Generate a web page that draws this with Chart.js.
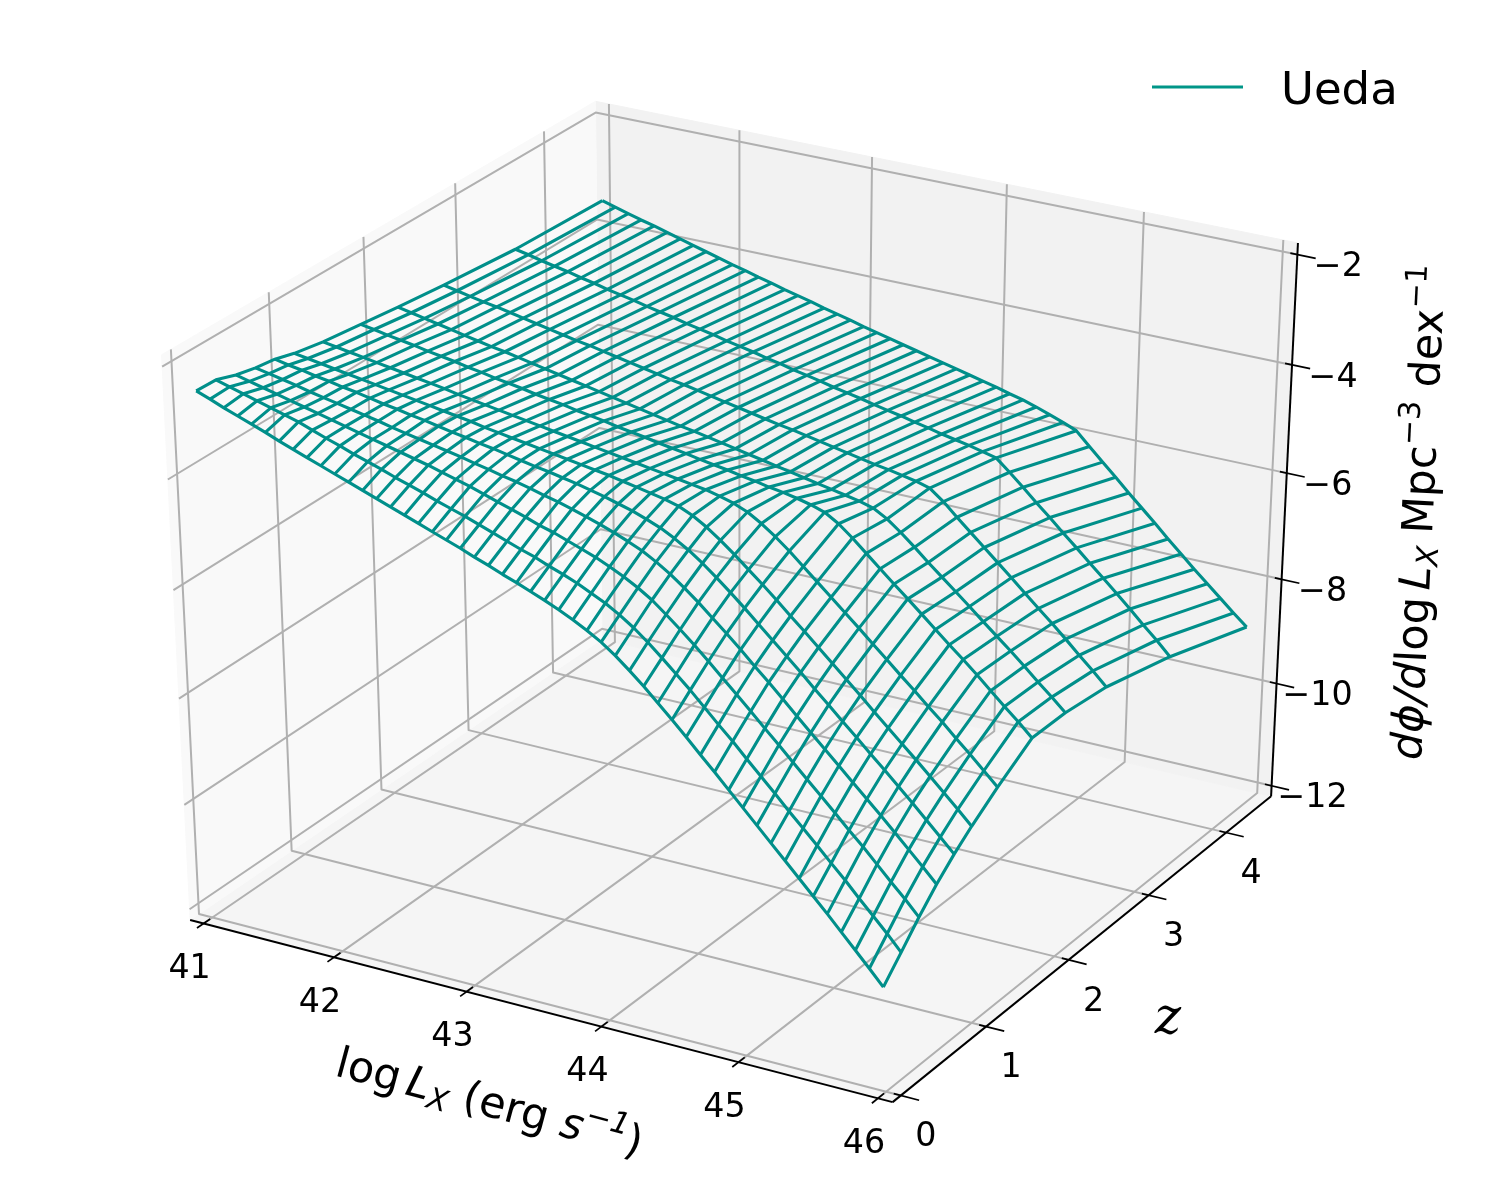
<!DOCTYPE html>
<html>
<head>
<meta charset="utf-8">
<title>Ueda XLF</title>
<script src="https://cdn.jsdelivr.net/npm/chart.js@4/dist/chart.umd.min.js"></script>
<style>
  html, body { margin: 0; padding: 0; background: #fff; }
  canvas { display: block; }
</style>
</head>
<body>
<canvas id="xlf" width="1500" height="1200"></canvas>
<script>
/* ---- luminosity function grid ---- */
const logLx = [41.07,41.17,41.27,41.37,41.47,41.57,41.67,41.77,41.87,41.97,
               42.07,42.17,42.27,42.37,42.47,42.57,42.67,42.77,42.87,42.97,
               43.07,43.17,43.27,43.37,43.47,43.57,43.67,43.77,43.87,43.97,
               44.07,44.17,44.27,44.37,44.47,44.57,44.67,44.77,44.87,44.97,
               45.07,45.17,45.27,45.37,45.47,45.57,45.67,45.77,45.87,45.97];
const redshift = [0, 0.2, 0.4, 0.6, 0.8, 1.0, 1.3, 1.7, 2.1, 2.6, 3.4, 4.4];

// one row of log dphi/dlogLx per redshift
const phiZ00 = [-2.43,-2.52,-2.62,-2.71,-2.80,-2.89,-2.99,-3.08,-3.17,-3.26,
                -3.35,-3.44,-3.53,-3.62,-3.71,-3.80,-3.89,-3.98,-4.07,-4.16,
                -4.26,-4.35,-4.45,-4.54,-4.64,-4.74,-4.85,-4.97,-5.10,-5.25,
                -5.43,-5.64,-5.86,-6.10,-6.34,-6.59,-6.85,-7.10,-7.36,-7.62,
                -7.88,-8.14,-8.40,-8.66,-8.92,-9.18,-9.45,-9.72,-9.99,-10.27];
const phiZ02 = [-2.44,-2.51,-2.58,-2.65,-2.72,-2.79,-2.86,-2.95,-3.04,-3.12,
                -3.21,-3.29,-3.37,-3.46,-3.54,-3.62,-3.71,-3.79,-3.87,-3.96,
                -4.05,-4.14,-4.23,-4.31,-4.41,-4.50,-4.60,-4.72,-4.84,-4.99,
                -5.16,-5.36,-5.58,-5.81,-6.04,-6.29,-6.54,-6.78,-7.04,-7.29,
                -7.54,-7.80,-8.05,-8.30,-8.56,-8.81,-9.08,-9.34,-9.60,-9.88];
const phiZ04 = [-2.56,-2.62,-2.68,-2.74,-2.80,-2.86,-2.92,-2.98,-3.04,-3.10,
                -3.16,-3.22,-3.28,-3.34,-3.40,-3.47,-3.54,-3.61,-3.69,-3.77,
                -3.85,-3.93,-4.02,-4.09,-4.18,-4.27,-4.36,-4.47,-4.59,-4.73,
                -4.89,-5.09,-5.30,-5.52,-5.75,-5.99,-6.23,-6.47,-6.72,-6.96,
                -7.21,-7.46,-7.70,-7.95,-8.20,-8.44,-8.70,-8.96,-9.21,-9.48];
const phiZ06 = [-2.64,-2.69,-2.74,-2.79,-2.85,-2.90,-2.95,-3.00,-3.05,-3.10,
                -3.16,-3.21,-3.26,-3.31,-3.36,-3.41,-3.47,-3.52,-3.58,-3.63,
                -3.69,-3.76,-3.82,-3.89,-3.97,-4.05,-4.14,-4.24,-4.35,-4.49,
                -4.65,-4.84,-5.04,-5.26,-5.48,-5.71,-5.95,-6.18,-6.42,-6.67,
                -6.91,-7.15,-7.39,-7.63,-7.87,-8.11,-8.36,-8.61,-8.86,-9.12];
const phiZ08 = [-2.69,-2.74,-2.78,-2.83,-2.87,-2.92,-2.96,-3.01,-3.06,-3.10,
                -3.15,-3.19,-3.24,-3.29,-3.33,-3.38,-3.42,-3.47,-3.52,-3.57,
                -3.61,-3.66,-3.71,-3.77,-3.83,-3.90,-3.97,-4.06,-4.16,-4.29,
                -4.44,-4.62,-4.82,-5.03,-5.25,-5.48,-5.71,-5.94,-6.17,-6.41,
                -6.64,-6.88,-7.11,-7.35,-7.58,-7.82,-8.06,-8.31,-8.56,-8.81];
const phiZ10 = [-2.79,-2.83,-2.87,-2.91,-2.95,-2.99,-3.03,-3.07,-3.11,-3.15,
                -3.19,-3.23,-3.27,-3.31,-3.36,-3.40,-3.44,-3.48,-3.52,-3.56,
                -3.60,-3.64,-3.68,-3.72,-3.77,-3.82,-3.87,-3.92,-3.99,-4.10,
                -4.25,-4.43,-4.63,-4.84,-5.05,-5.27,-5.50,-5.72,-5.95,-6.18,
                -6.41,-6.64,-6.88,-7.11,-7.34,-7.57,-7.81,-8.05,-8.29,-8.54];
const phiZ13 = [-2.89,-2.93,-2.97,-3.01,-3.05,-3.09,-3.13,-3.17,-3.21,-3.25,
                -3.30,-3.34,-3.38,-3.42,-3.46,-3.50,-3.54,-3.58,-3.62,-3.66,
                -3.70,-3.74,-3.78,-3.82,-3.86,-3.90,-3.94,-3.98,-4.02,-4.08,
                -4.15,-4.25,-4.40,-4.58,-4.78,-5.00,-5.22,-5.44,-5.66,-5.88,
                -6.11,-6.33,-6.56,-6.78,-7.01,-7.23,-7.47,-7.70,-7.94,-8.18];
const phiZ17 = [-2.98,-3.02,-3.07,-3.11,-3.15,-3.20,-3.24,-3.28,-3.33,-3.37,
                -3.42,-3.46,-3.50,-3.55,-3.59,-3.63,-3.68,-3.72,-3.76,-3.81,
                -3.85,-3.89,-3.94,-3.98,-4.02,-4.07,-4.11,-4.15,-4.20,-4.24,
                -4.29,-4.33,-4.38,-4.44,-4.52,-4.67,-4.87,-5.09,-5.31,-5.53,
                -5.74,-5.96,-6.18,-6.40,-6.61,-6.83,-7.06,-7.29,-7.51,-7.75];
const phiZ21 = [-3.07,-3.12,-3.17,-3.22,-3.27,-3.32,-3.37,-3.42,-3.46,-3.51,
                -3.56,-3.61,-3.66,-3.71,-3.76,-3.81,-3.86,-3.91,-3.96,-4.01,
                -4.06,-4.11,-4.15,-4.20,-4.25,-4.30,-4.35,-4.40,-4.45,-4.50,
                -4.55,-4.60,-4.65,-4.70,-4.75,-4.82,-4.96,-5.15,-5.36,-5.58,
                -5.79,-6.00,-6.21,-6.43,-6.64,-6.85,-7.07,-7.30,-7.52,-7.75];
const phiZ26 = [-3.17,-3.22,-3.27,-3.32,-3.36,-3.41,-3.46,-3.51,-3.56,-3.61,
                -3.66,-3.70,-3.75,-3.80,-3.85,-3.90,-3.95,-4.00,-4.04,-4.09,
                -4.14,-4.19,-4.24,-4.29,-4.34,-4.39,-4.43,-4.48,-4.53,-4.58,
                -4.63,-4.68,-4.73,-4.77,-4.82,-4.87,-4.94,-5.13,-5.36,-5.58,
                -5.80,-6.02,-6.24,-6.47,-6.69,-6.91,-7.14,-7.38,-7.61,-7.85];
const phiZ34 = [-3.30,-3.35,-3.41,-3.46,-3.51,-3.57,-3.62,-3.68,-3.73,-3.78,
                -3.84,-3.89,-3.94,-4.00,-4.05,-4.10,-4.16,-4.21,-4.26,-4.32,
                -4.37,-4.43,-4.48,-4.53,-4.59,-4.64,-4.69,-4.75,-4.80,-4.85,
                -4.91,-4.96,-5.02,-5.07,-5.12,-5.18,-5.24,-5.45,-5.67,-5.90,
                -6.12,-6.35,-6.57,-6.80,-7.02,-7.25,-7.48,-7.72,-7.95,-8.20];
const phiZ44 = [-3.37,-3.44,-3.51,-3.58,-3.64,-3.71,-3.78,-3.85,-3.92,-3.99,
                -4.06,-4.12,-4.19,-4.25,-4.32,-4.38,-4.44,-4.51,-4.57,-4.63,
                -4.70,-4.76,-4.82,-4.88,-4.94,-5.00,-5.06,-5.12,-5.18,-5.24,
                -5.30,-5.37,-5.43,-5.51,-5.60,-5.69,-5.79,-6.03,-6.27,-6.50,
                -6.74,-6.97,-7.20,-7.44,-7.67,-7.90,-8.12,-8.34,-8.56,-8.77];
const phiRows = [phiZ00,phiZ02,phiZ04,phiZ06,phiZ08,phiZ10,phiZ13,phiZ17,phiZ21,phiZ26,phiZ34,phiZ44];

/* ---- axis ticks and box limits ---- */
const lxTicks  = [41, 42, 43, 44, 45, 46];
const zTicks   = [0, 1, 2, 3, 4];
const phiTicks = [-12, -10, -8, -6, -4, -2];
const lxBox  = [40.896, 46.104];
const zBox   = [-0.094, 4.594];
const phiBox = [-12.208, -1.792];

const WIRE = '#008f8a', GRID = '#b0b0b0';

// camera at elev 30, azim -60, distance 10
function project(lx, z, phi) {
    const dx = (lx - lxBox[0]) / (lxBox[1] - lxBox[0]) - 0.5;
    const dy = (z - zBox[0]) / (zBox[1] - zBox[0]) - 0.5;
    const dz = (phi - phiBox[0]) / (phiBox[1] - phiBox[0]) - 0.5;
    const xv = 0.8660254 * dx + 0.5 * dy;
    const yv = -0.25 * dx + 0.4330127 * dy + 0.8660254 * dz;
    const w  = 10 - (0.4330127 * dx - 0.75 * dy + 0.5 * dz);
    return { x: xv / w, y: yv / w };
}

const datasets = [];
function addLine(pts, color, width, order) {
    datasets.push({ data: pts, showLine: true, borderColor: color, borderWidth: width,
                    pointRadius: 0, fill: false, order: order, borderJoinStyle: 'round' });
}
function addPane(corners, color) {
    datasets.push({ data: corners, showLine: true, borderColor: color, borderWidth: 1,
                    backgroundColor: color, pointRadius: 0, fill: 'shape', order: 9 });
}

/* ---- wireframe ---- */
phiRows.forEach(function (row, j) {
    addLine(row.map(function (p, i) { return project(logLx[i], redshift[j], p); }), WIRE, 3.1, 1);
});
logLx.forEach(function (lx, i) {
    addLine(redshift.map(function (z, j) { return project(lx, z, phiRows[j][i]); }), WIRE, 3.1, 1);
});

/* ---- panes ---- */
const [x0, x1] = lxBox, [y0, y1] = zBox, [z0, z1] = phiBox;
addPane([project(x0,y0,z0), project(x0,y1,z0), project(x0,y1,z1), project(x0,y0,z1), project(x0,y0,z0)], '#f9f9f9');
addPane([project(x0,y1,z0), project(x1,y1,z0), project(x1,y1,z1), project(x0,y1,z1), project(x0,y1,z0)], '#f2f2f2');
addPane([project(x0,y0,z0), project(x1,y0,z0), project(x1,y1,z0), project(x0,y1,z0), project(x0,y0,z0)], '#f5f5f5');

/* ---- grid lines, along the floor and up the panes ---- */
lxTicks.forEach(function (t) {
    addLine([project(t,y0,z0), project(t,y1,z0), project(t,y1,z1)], GRID, 2, 5);
});
zTicks.forEach(function (t) {
    addLine([project(x1,t,z0), project(x0,t,z0), project(x0,t,z1)], GRID, 2, 5);
});
phiTicks.forEach(function (t) {
    addLine([project(x0,y0,t), project(x0,y1,t), project(x1,y1,t)], GRID, 2, 5);
});

/* ---- axis lines and tick marks ---- */
addLine([project(x0,y0,z0), project(x1,y0,z0)], '#000', 2, 3);
addLine([project(x1,y0,z0), project(x1,y1,z0)], '#000', 2, 3);
addLine([project(x1,y1,z0), project(x1,y1,z1)], '#000', 2, 3);
const yTickIn = 0.07, yTickOut = 0.14, xTickIn = 0.05, xTickOut = 0.13;
lxTicks.forEach(function (t) {
    addLine([project(t,y0+yTickIn,z0), project(t,y0-yTickOut/2,z0)], '#000', 1.7, 3);
});
zTicks.forEach(function (t) {
    addLine([project(x1-xTickIn,t,z0), project(x1+xTickOut,t,z0)], '#000', 1.7, 3);
});
phiTicks.forEach(function (t) {
    addLine([project(x1-xTickIn,y1,t), project(x1+xTickOut,y1,t)], '#000', 1.7, 3);
});

/* ---- labels ---- */
const SANS = '"DejaVu Sans"';
// draw mixed-font text centred on (cx, cy), turned by angle
function richText(ctx, runs, cx, cy, angle) {
    let total = 0;
    runs.forEach(function (r) {
        ctx.font = r.font;
        r.w = ctx.measureText(r.t).width;
        total += r.w + (r.gap || 0);
    });
    ctx.save();
    ctx.translate(cx, cy);
    ctx.rotate(angle);
    ctx.textAlign = 'left';
    ctx.textBaseline = 'alphabetic';
    let pos = -total / 2;
    runs.forEach(function (r) {
        ctx.font = r.font;
        ctx.fillText(r.t, pos, r.dy || 0);
        pos += r.w + (r.gap || 0);
    });
    ctx.restore();
}

const labelPlugin = {
    id: 'labels',
    afterDatasetsDraw(chart) {
        const ctx = chart.ctx, sx = chart.scales.x, sy = chart.scales.y;
        const px = function (p) { return [sx.getPixelForValue(p.x), sy.getPixelForValue(p.y)]; };
        ctx.save();
        ctx.fillStyle = '#000';
        ctx.textAlign = 'center';
        ctx.textBaseline = 'middle';
        ctx.font = '33.3px ' + SANS;
        lxTicks.forEach(function (t) {
            const p = px(project(t, y0, z0));
            ctx.fillText(String(t), p[0] - 14, p[1] + 46);
        });
        zTicks.forEach(function (t) {
            const p = px(project(x1, t, z0));
            ctx.fillText(String(t), p[0] + 25, p[1] + 42);
        });
        phiTicks.forEach(function (t) {
            const p = px(project(x1, y1, t));
            ctx.fillText('\u2212' + Math.abs(t), p[0] + 41, p[1] + 13);
        });

        // legend
        ctx.font = '45px ' + SANS;
        ctx.textAlign = 'left';
        ctx.fillText('Ueda', 1281, 92);
        ctx.strokeStyle = '#009688';
        ctx.lineWidth = 2.8;
        ctx.beginPath();
        ctx.moveTo(1152, 87);
        ctx.lineTo(1243, 87);
        ctx.stroke();

        // axis titles, each turned to follow its axis
        const big = '43px ' + SANS, obl = 'oblique 43px ' + SANS;
        const sub = 'oblique 30px ' + SANS, sup = '30px ' + SANS;
        richText(ctx, [
            { t: 'log', font: big, gap: 7 },
            { t: 'L', font: obl },
            { t: 'X', font: sub, dy: 7, gap: 14 },
            { t: '(erg ', font: big },
            { t: 's', font: obl },
            { t: '\u22121', font: sub, dy: -18 },
            { t: ')', font: big }
        ], 486, 1116, 0.262);
        richText(ctx, [
            { t: 'd', font: obl },
            { t: '\u03d5', font: obl },
            { t: '/', font: obl },
            { t: 'd', font: obl },
            { t: 'log', font: big, gap: 7 },
            { t: 'L', font: obl },
            { t: 'X', font: sub, dy: 7, gap: 12 },
            { t: 'Mpc', font: big },
            { t: '\u22123', font: sup, dy: -18, gap: 14 },
            { t: 'dex', font: big },
            { t: '\u22121', font: sup, dy: -18 }
        ], 1433, 513, -1.522);
        ctx.font = 'italic 50px "DejaVu Serif"';
        ctx.textAlign = 'center';
        ctx.fillText('z', 1168, 1020);
        ctx.restore();
    }
};

new Chart(document.getElementById('xlf').getContext('2d'), {
    type: 'scatter',
    data: { datasets: datasets },
    options: {
        responsive: false,
        animation: false,
        devicePixelRatio: 1,
        layout: { padding: 0 },
        plugins: { legend: { display: false }, tooltip: { enabled: false } },
        scales: {
            x: { type: 'linear', display: false, min: -0.09113, max: 0.09385 },
            y: { type: 'linear', display: false, min: -0.09536, max: 0.09059 }
        }
    },
    plugins: [labelPlugin]
});
</script>
</body>
</html>
